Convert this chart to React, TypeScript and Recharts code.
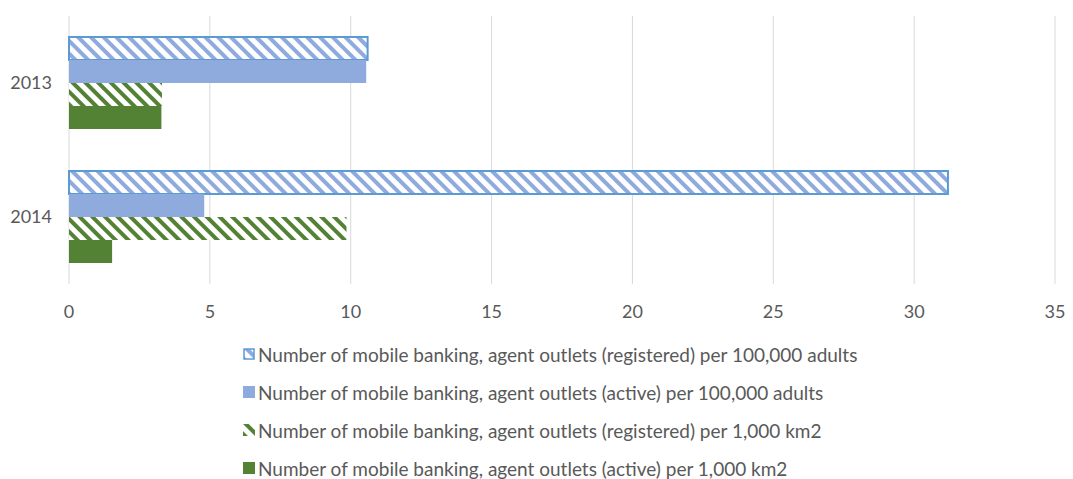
import { BarChart, Bar, XAxis, YAxis, CartesianGrid } from 'recharts';

const years = ['2013', '2014'];
const registeredPerAdults = [10.6, 31.2];
const activePerAdults = [10.55, 4.8];
const registeredPerKm = [3.3, 9.85];
const activePerKm = [3.28, 1.53];
const xTicks = [0, 5, 10, 15, 20, 25, 30, 35];

const seriesNames = [
  'Number of mobile banking, agent outlets (registered) per 100,000 adults',
  'Number of mobile banking, agent outlets (active) per 100,000 adults',
  'Number of mobile banking, agent outlets (registered) per 1,000 km2',
  'Number of mobile banking, agent outlets (active) per 1,000 km2',
];

const data = years.map((year, i) => ({
  year,
  regAdults: registeredPerAdults[i],
  actAdults: activePerAdults[i],
  regKm: registeredPerKm[i],
  actKm: activePerKm[i],
}));

const FONT = 'Lato, "Open Sans", sans-serif';
const TEXT = '#595959';
const BLUE = '#8faadc';
const BLUE_EDGE = '#5b9bd5';
const GREEN = '#548235';

function Patterns() {
  return (
    <defs>
      <pattern id="blueStripe" patternUnits="userSpaceOnUse" width="9" height="9" patternTransform="rotate(-45)">
        <rect x="0" y="0" width="9" height="9" fill="#fff" />
        <rect x="0" y="0" width="4" height="9" fill={BLUE} />
      </pattern>
      <pattern id="greenStripe" patternUnits="userSpaceOnUse" width="9" height="9" patternTransform="rotate(-45)">
        <rect x="0" y="0" width="9" height="9" fill="#fff" />
        <rect x="0" y="0" width="4" height="9" fill={GREEN} />
      </pattern>
    </defs>
  );
}

function LegendIcon({ index }: { index: number }) {
  return (
    <svg width="12" height="12" style={{ marginRight: 3, flexShrink: 0 }}>
      <Patterns />
      {index === 0 && <rect x="1" y="1" width="10" height="10" fill="url(#blueStripe)" stroke={BLUE_EDGE} strokeWidth="1.5" />}
      {index === 1 && <rect x="0" y="0" width="12" height="12" fill={BLUE} />}
      {index === 2 && <rect x="0" y="0" width="12" height="12" fill="url(#greenStripe)" />}
      {index === 3 && <rect x="0" y="0" width="12" height="12" fill={GREEN} />}
    </svg>
  );
}

export default function App() {
  return (
    <div style={{ position: 'absolute', left: 0, top: 0, width: 1073, height: 479, background: '#fff', fontFamily: FONT }}>
      <BarChart
        width={1073}
        height={330}
        data={data}
        layout="vertical"
        margin={{ top: 16, right: 18, bottom: 0, left: 0 }}
        barSize={23}
        barGap={0}
      >
        <Patterns />
        <CartesianGrid horizontal={false} stroke="#d9d9d9" />
        <XAxis
          type="number"
          domain={[0, 35]}
          ticks={xTicks}
          axisLine={false}
          tickLine={false}
          tickMargin={15}
          height={46}
          tick={{ fontSize: 18, fill: TEXT, fontFamily: FONT }}
        />
        <YAxis
          type="category"
          dataKey="year"
          width={69}
          axisLine={false}
          tickLine={false}
          tickMargin={11}
          tick={{ fontSize: 18, fill: TEXT, fontFamily: FONT }}
        />
        <Bar dataKey="regAdults" fill="url(#blueStripe)" stroke={BLUE_EDGE} strokeWidth={2} isAnimationActive={false} />
        <Bar dataKey="actAdults" fill={BLUE} isAnimationActive={false} />
        <Bar dataKey="regKm" fill="url(#greenStripe)" isAnimationActive={false} />
        <Bar dataKey="actKm" fill={GREEN} isAnimationActive={false} />
      </BarChart>
      <div style={{ position: 'absolute', left: 243, top: 335 }}>
        {seriesNames.map((name, i) => (
          <div key={name} style={{ display: 'flex', alignItems: 'center', height: 38, fontSize: 19, color: TEXT, whiteSpace: 'nowrap' }}>
            <LegendIcon index={i} />
            <span>{name}</span>
          </div>
        ))}
      </div>
    </div>
  );
}
